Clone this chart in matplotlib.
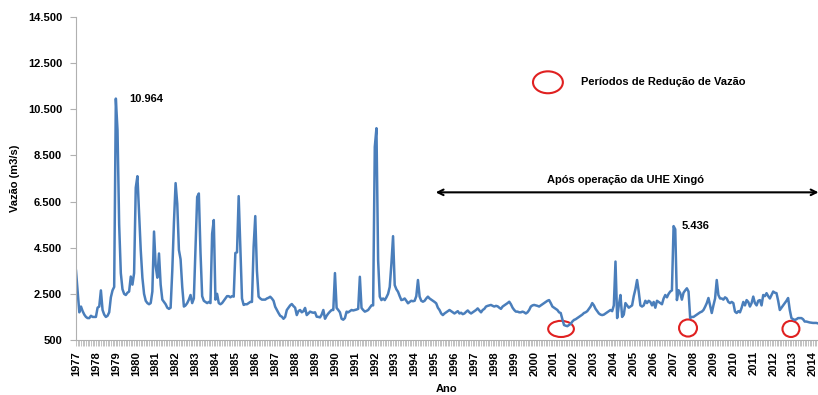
import matplotlib.pyplot as plt
from matplotlib.patches import Ellipse
from matplotlib.ticker import FuncFormatter
import numpy as np

plt.rcParams['font.family'] = ['Liberation Sans', 'DejaVu Sans']

# monthly discharge (m3/s), one list per year, Jan 1977 .. Apr 2014
anos = list(range(1977, 2015))
vazao_1977_1986 = [
    [3500, 2600, 1700, 1950, 1750, 1600, 1500, 1450, 1450, 1550, 1500, 1500],
    [1500, 1900, 1950, 2650, 1800, 1600, 1500, 1550, 1700, 2350, 2650, 2800],
    [10964, 9600, 5500, 3400, 2700, 2500, 2450, 2550, 2600, 3250, 2900, 3400],
    [7100, 7600, 6000, 4400, 3200, 2500, 2200, 2100, 2050, 2100, 2600, 5200],
    [3700, 3200, 4250, 2900, 2250, 2150, 2050, 1900, 1850, 1900, 3500, 5600],
    [7300, 6400, 4400, 4000, 2800, 1950, 2000, 2100, 2250, 2450, 2100, 2300],
    [4500, 6700, 6850, 4300, 2400, 2200, 2150, 2100, 2150, 2100, 5100, 5700],
    [2250, 2500, 2100, 2050, 2100, 2200, 2300, 2400, 2400, 2350, 2400, 2380],
    [4270, 4300, 6735, 4500, 2300, 2020, 2050, 2050, 2100, 2150, 2150, 4540],
    [5870, 3500, 2380, 2300, 2250, 2250, 2250, 2300, 2330, 2375, 2300, 2200],
]
vazao_1987_1996 = [
    [1940, 1800, 1670, 1550, 1510, 1420, 1500, 1800, 1900, 2000, 2060, 1970],
    [1900, 1580, 1750, 1800, 1700, 1750, 1890, 1580, 1650, 1730, 1700, 1680],
    [1700, 1510, 1500, 1480, 1600, 1800, 1420, 1550, 1650, 1730, 1800, 1800],
    [3400, 1890, 1800, 1700, 1420, 1380, 1450, 1730, 1700, 1750, 1800, 1780],
    [1800, 1820, 1850, 3240, 1890, 1800, 1730, 1760, 1800, 1900, 2000, 2000],
    [8870, 9680, 3960, 2380, 2230, 2300, 2230, 2350, 2500, 2800, 3800, 5000],
    [2880, 2700, 2590, 2400, 2230, 2250, 2300, 2200, 2090, 2150, 2200, 2180],
    [2200, 2400, 3100, 2380, 2200, 2160, 2200, 2300, 2380, 2300, 2250, 2200],
    [2150, 2090, 1900, 1800, 1650, 1580, 1650, 1700, 1750, 1800, 1750, 1700],
    [1650, 1700, 1750, 1650, 1680, 1620, 1650, 1720, 1780, 1700, 1650, 1700],
]
vazao_1997_2006 = [
    [1750, 1800, 1870, 1780, 1700, 1800, 1850, 1950, 1980, 2000, 2020, 1980],
    [1950, 1980, 1960, 1900, 1850, 1950, 2000, 2050, 2100, 2160, 2050, 1900],
    [1800, 1730, 1730, 1700, 1700, 1730, 1700, 1650, 1700, 1800, 1950, 2000],
    [2020, 2000, 1980, 1950, 2000, 2050, 2100, 2150, 2200, 2230, 2100, 1950],
    [1900, 1850, 1800, 1700, 1670, 1400, 1150, 1120, 1100, 1150, 1200, 1300],
    [1370, 1400, 1450, 1500, 1550, 1600, 1670, 1700, 1750, 1850, 1950, 2100],
    [2000, 1850, 1750, 1650, 1600, 1580, 1600, 1650, 1700, 1750, 1800, 1750],
    [2000, 3900, 1450, 2000, 2450, 1500, 1600, 2100, 2000, 1900, 1950, 2000],
    [2400, 2700, 3100, 2600, 2000, 1950, 2000, 2200, 2100, 2200, 2150, 2000],
    [2150, 1900, 2200, 2150, 2100, 2050, 2300, 2450, 2350, 2500, 2600, 2650],
]
vazao_2007_2014 = [
    [5436, 5300, 2230, 2660, 2530, 2250, 2550, 2650, 2740, 2600, 1450, 1500],
    [1500, 1550, 1600, 1650, 1700, 1730, 1800, 1940, 2100, 2320, 2000, 1670],
    [2000, 2300, 3100, 2450, 2300, 2300, 2250, 2350, 2300, 2150, 2100, 2150],
    [2100, 1730, 1670, 1750, 1700, 1900, 2150, 2000, 2230, 2150, 1950, 2100],
    [2380, 2100, 2000, 2200, 2230, 2000, 2450, 2400, 2530, 2400, 2300, 2450],
    [2600, 2550, 2530, 2200, 1800, 1900, 2000, 2100, 2200, 2320, 1800, 1450],
    [1400, 1370, 1400, 1450, 1450, 1450, 1400, 1300, 1300, 1280, 1260, 1250],
    [1240, 1240, 1240, 1220],
]

# reduction periods marked with red circles (month index, centre value, width months, height)
reducao = [(292.2, 980, 15.5, 700), (368.7, 1020, 10.8, 740), (430.7, 980, 10.2, 700)]

vazao = []
for bloco in (vazao_1977_1986, vazao_1987_1996, vazao_1997_2006, vazao_2007_2014):
    for ano in bloco:
        vazao.extend(ano)
meses = np.arange(len(vazao))

fig = plt.figure(figsize=(8.18, 3.95), dpi=100)
ax = fig.add_axes([76 / 818, 55 / 395, 742 / 818, 323 / 395])
ax.plot(meses, vazao, color='#4a7ebb', lw=1.8)

ax.set_xlim(0, len(vazao) - 1)
ax.set_ylim(500, 14500)
ax.set_yticks(range(500, 14501, 2000))
ax.yaxis.set_major_formatter(FuncFormatter(lambda v, p: f'{int(v):,}'.replace(',', '.')))
ax.set_xticks(np.arange(len(anos)) * 12)
ax.set_xticklabels([str(a) for a in anos], rotation=90)
ax.set_xticks(meses, minor=True)

for s in ['top', 'right']:
    ax.spines[s].set_visible(False)
for s in ['left', 'bottom']:
    ax.spines[s].set_color('#b0b0b0')
ax.tick_params(axis='y', length=4, color='#b0b0b0', pad=6, labelsize=8)
ax.tick_params(axis='x', which='both', length=4, color='#b8b8b8', width=0.6, pad=4, labelsize=8)
for lab in ax.get_xticklabels() + ax.get_yticklabels():
    lab.set_fontweight('bold')

ax.set_ylabel('Vazão (m3/s)', fontsize=8, fontweight='bold', labelpad=6)
ax.set_xlabel('Ano', fontsize=8, fontweight='bold', labelpad=6)

# peak annotations
ax.text(32, 10950, '10.964', fontsize=8, fontweight='bold', va='center')
ax.text(365, 5440, '5.436', fontsize=8, fontweight='bold', va='center')

for cx, cy, w, h in reducao:
    ax.add_patch(Ellipse((cx, cy), w, h, fill=False, ec='#e02020', lw=1.5, clip_on=False))

# legend for the circles
ax.add_patch(Ellipse((284.3, 11670), 18, 950, fill=False, ec='#e02020', lw=1.5))
ax.text(304, 11670, 'Períodos de Redução de Vazão', fontsize=8, fontweight='bold', va='center')

# period after UHE Xingó
ax.annotate('', xy=(215, 6900), xytext=(449, 6900),
            arrowprops=dict(arrowstyle='<->', color='black', lw=1.5, mutation_scale=10),
            annotation_clip=False)
ax.text(331, 7430, 'Após operação da UHE Xingó', fontsize=8, fontweight='bold', ha='center', va='center')

fig.savefig('out.png', dpi=100)
